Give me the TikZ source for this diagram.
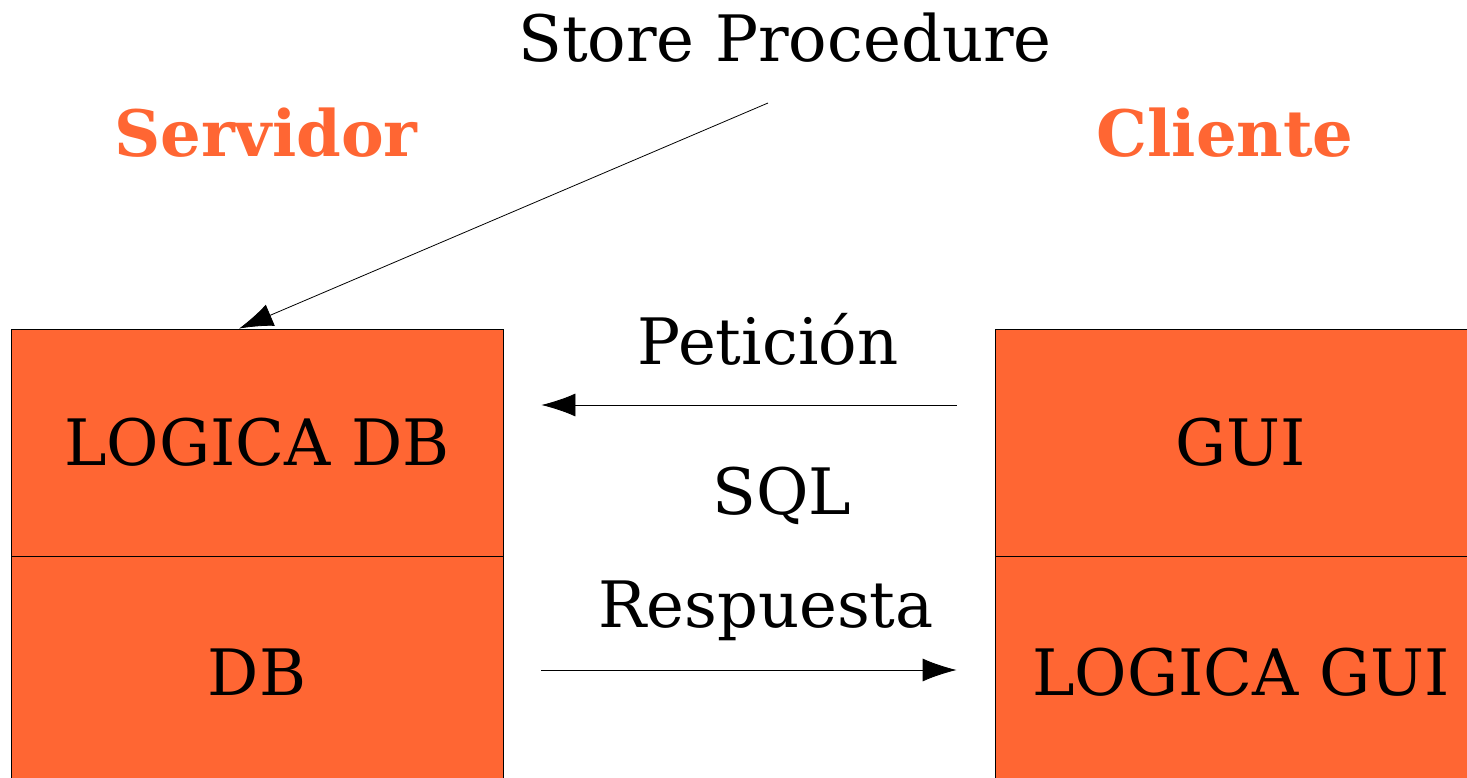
\documentclass[tikz,border=0pt]{standalone}
\usepackage{fontspec}
\setmainfont{DejaVu Serif}
\usetikzlibrary{arrows.meta}
\usetikzlibrary{positioning}
\definecolor{naranja}{RGB}{255,102,51}
\tikzset{capa/.style={fill=naranja,draw=black,line width=0.8pt,minimum width=492pt,inner sep=0pt,font=\fontsize{64}{77}\selectfont}}

\begin{document}
\begin{tikzpicture}[x=1pt,y=-1pt]
  \tikzset{rotulo/.style={anchor=base,inner sep=0pt,font=\fontsize{64}{77}\selectfont}}
  \tikzset{titulo/.style={rotulo,text=naranja,font=\fontsize{64}{77}\selectfont\bfseries}}
  \tikzset{flecha/.style={-{Latex[length=34pt,width=23pt]}, line width=0.8pt}}

  \useasboundingbox (0,0) rectangle (1467,778);
  % capas del servidor
  \node[capa,minimum height=227pt] (lgdb) at (257,442.5) {LOGICA DB};
  \node[capa,minimum height=230pt,below=0pt of lgdb] (db) {DB};
  % capas del cliente
  \node[capa,minimum height=227pt] (gui) at (1241,442.5) {GUI};
  \node[capa,minimum height=230pt,below=0pt of gui] (lggui) {LOGICA GUI};

  \node[titulo] (servidor) at (266,157) {Servidor};
  \node[titulo] (cliente) at (1225,157) {Cliente};
  \node[rotulo] (store) at (785,62) {Store Procedure};
  \node[rotulo] (peticion) at (768,364) {Petición};
  \node[rotulo] (sql) at (782,514) {SQL};
  \node[rotulo] (respuesta) at (766,627) {Respuesta};

  \coordinate (sp) at (768,103);
  \draw[flecha] (sp) -- ([xshift=-18pt]lgdb.north);
  \draw[flecha,shorten <=38pt,shorten >=38pt] (gui.west |- 0,405) coordinate (pa) -- (lgdb.east |- pa);
  \draw[flecha,shorten <=38pt,shorten >=38pt] (db.east |- 0,670) coordinate (ra) -- (lggui.west |- ra);
\end{tikzpicture}
\end{document}
